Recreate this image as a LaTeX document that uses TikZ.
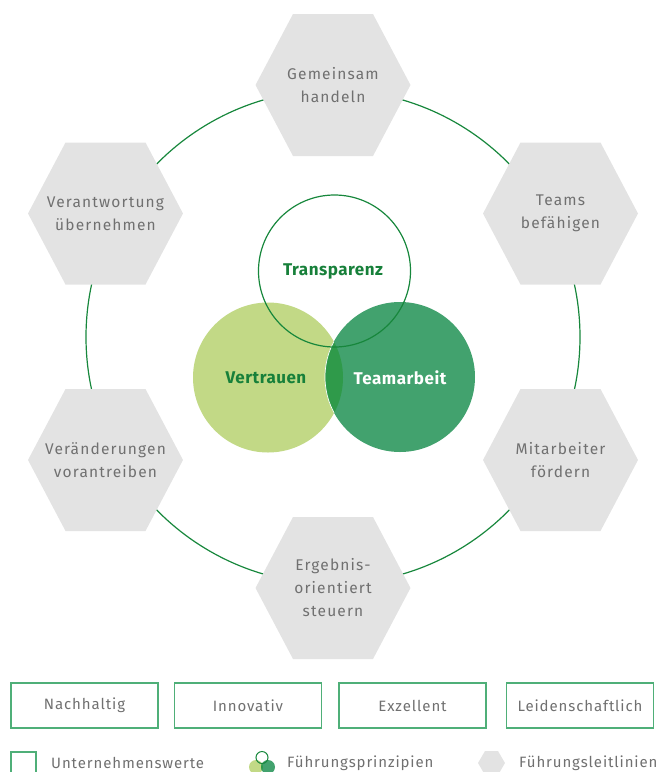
\documentclass[tikz,border=0pt]{standalone}
\usepackage{fontspec}
\setmainfont{Fira Sans}[BoldFont=* Bold]
\definecolor{hexfill}{HTML}{E3E3E3}
\definecolor{hextext}{HTML}{707070}
\definecolor{ringg}{HTML}{17873C}
\definecolor{lightg}{HTML}{C2D986}
\definecolor{teamg}{HTML}{42A26E}
\definecolor{overg}{HTML}{2F9A4A}
\definecolor{labg}{HTML}{17803A}
\definecolor{boxg}{HTML}{4FAF78}
\newcommand\hexag[4]{%
  \fill[hexfill] (#2-77.5,#3) -- (#2-40,#3-71) -- (#2+40,#3-71) -- (#2+77.5,#3) -- (#2+40,#3+71) -- (#2-40,#3+71) -- cycle;
  \node[hextxt] (#1) at (#2,#3) {#4};}
\tikzset{
  hextxt/.style={align=center, text=hextext, font=\fontsize{15.5}{23}\selectfont\addfontfeatures{LetterSpace=7.5}},
  vlab/.style={font=\fontsize{17}{20}\selectfont\bfseries\addfontfeatures{LetterSpace=3}},
  valbox/.style={draw=boxg, line width=1.1pt, minimum width=147pt, minimum height=45pt, text=hextext, font=\fontsize{15}{18}\selectfont\addfontfeatures{LetterSpace=6}},
  legtxt/.style={anchor=west, inner sep=0pt, text=hextext, font=\fontsize{15}{18}\selectfont\addfontfeatures{LetterSpace=6}}
}
\begin{document}
\begin{tikzpicture}[x=1pt,y=-1pt]
\useasboundingbox (0,0) rectangle (663,772);
\clip (0,0) rectangle (663,772);
% ring
\draw[ringg, line width=1.2pt] (333,337) circle (247);
% hexagons
\hexag{h1}{333}{85}{Gemeinsam\\handeln}
\hexag{h2}{560.5}{213.5}{Teams\\befähigen}
\hexag{h3}{560.5}{460}{Mitarbeiter\\fördern}
\hexag{h4}{333}{588}{Ergebnis-\\orientiert\\steuern}
\hexag{h5}{105.5}{460}{Veränderungen\\vorantreiben}
\hexag{h6}{105.5}{213.5}{Verantwortung\\übernehmen}
% venn
\fill[lightg] (268,377.5) circle (75);
\fill[teamg] (400,377) circle (75);
\begin{scope}
  \clip (268,377.5) circle (75);
  \fill[overg] (400,377) circle (75);
  \draw[white, line width=0.7pt] (400,377) circle (75);
\end{scope}
\draw[ringg, line width=1.2pt] (334.5,271) circle (76);
\node[vlab, text=labg] (tr) at (333,271) {Transparenz};
\node[vlab, text=labg] (vt) at (266,378) {Vertrauen};
\node[vlab, text=white] (ta) at (400,378) {Teamarbeit};
% values
\node[valbox] (b1) at (84.5,705.5) {Nachhaltig};
\node[valbox] (b2) at (248,705.5) {Innovativ};
\node[valbox] (b3) at (412.5,705.5) {Exzellent};
\node[valbox] (b4) at (580,705.5) {Leidenschaftlich};
% legend
\draw[boxg, line width=1.1pt] (11,752) rectangle (36,778);
\node[legtxt] (l1) at (51,763) {Unternehmenswerte};
\fill[lightg] (256,767) circle (7);
\fill[teamg] (268,767) circle (7);
\begin{scope}
  \clip (256,767) circle (7);
  \fill[overg] (268,767) circle (7);
\end{scope}
\draw[ringg, line width=1pt] (262,757.5) circle (6);
\node[legtxt] (l2) at (287,763) {Führungsprinzipien};
\fill[hexfill] (478,763) -- (485,751) -- (498,751) -- (505,763) -- (498,775) -- (485,775) -- cycle;
\node[legtxt] (l3) at (519,763) {Führungsleitlinien};
\end{tikzpicture}
\end{document}
